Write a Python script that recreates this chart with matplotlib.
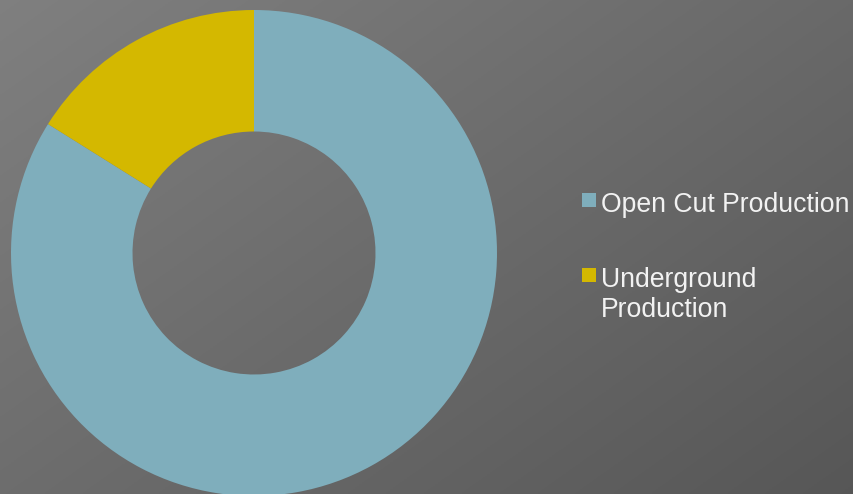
import numpy as np
import matplotlib.pyplot as plt
from matplotlib.patches import Rectangle

plt.rcParams['font.family'] = ['Liberation Sans', 'DejaVu Sans']

# Data
labels = ['Open Cut Production', 'Underground Production']
legend_lines = [['Open Cut Production'], ['Underground', 'Production']]
values = [83.9, 16.1]
colors = ['#7FAEBC', '#D4B800']

W, H = 854, 494
fig = plt.figure(figsize=(W / 100, H / 100), dpi=100)

# Gradient background (light top-left -> dark bottom-right)
bg = fig.add_axes([0, 0, 1, 1])
yy, xx = np.mgrid[0:1:200j, 0:1:300j]
t = (xx * 0.55 + yy * 0.45)
shade = 0.50 - 0.16 * t
img = np.dstack([shade, shade, shade])
bg.imshow(img, extent=[0, 1, 0, 1], origin='upper', aspect='auto')
bg.set_axis_off()

# Donut
cx, cy, r = 254, 253, 243
ax = fig.add_axes([(cx - r) / W, (H - cy - r) / H, 2 * r / W, 2 * r / H])
ax.pie(values, colors=colors, startangle=90, counterclock=False,
       radius=1.0, wedgeprops=dict(width=0.5, edgecolor='none'))
ax.set_xlim(-1, 1)
ax.set_ylim(-1, 1)
ax.set_aspect('equal')
ax.set_axis_off()
ax.patch.set_alpha(0)

# Legend drawn by hand (square top y, baseline of each text line)
square_top = [193, 268]
baselines = [[212], [287, 317]]
for lines, col, sq, bls in zip(legend_lines, colors, square_top, baselines):
    fig.patches.append(Rectangle((582 / W, (H - sq - 14) / H), 14 / W, 14 / H,
                                 transform=fig.transFigure, facecolor=col,
                                 edgecolor='none'))
    for line, b in zip(lines, bls):
        fig.text(601 / W, (H - b) / H, line, fontsize=19.2, color='#F2F2F2',
                 va='baseline', ha='left')

fig.savefig('out.png', dpi=100)
